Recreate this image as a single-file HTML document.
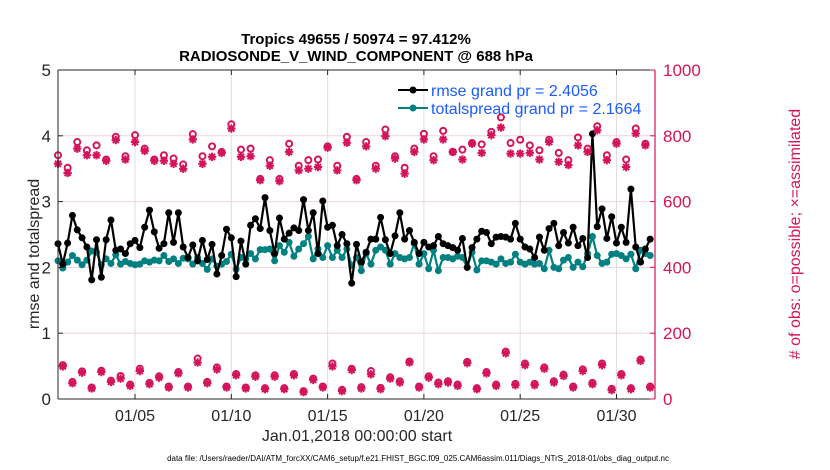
<!DOCTYPE html>
<html><head><meta charset="utf-8"><style>
html,body{margin:0;padding:0;background:#fff;}
svg{display:block;font-family:"Liberation Sans",Arial,sans-serif;}
</style></head><body>
<svg id="chart" width="830" height="470" viewBox="0 0 830 470" xmlns="http://www.w3.org/2000/svg">
<rect x="0" y="0" width="830" height="470" fill="#fff"/>
<g id="grid"></g>
<g id="series"></g>
<g id="axes"></g>
<text x="356" y="44" text-anchor="middle" font-size="15" font-weight="bold">Tropics 49655 / 50974 = 97.412%</text>
<text x="356" y="61" text-anchor="middle" font-size="15" font-weight="bold">RADIOSONDE_V_WIND_COMPONENT @ 688 hPa</text>
<text transform="translate(39,254) rotate(-90)" text-anchor="middle" font-size="16" fill="#262626">rmse and totalspread</text>
<text transform="translate(800,234) rotate(-90)" text-anchor="middle" font-size="16" fill="#d4145a"># of obs: o=possible; ×=assimilated</text>
<text x="357" y="441" text-anchor="middle" font-size="16" fill="#262626">Jan.01,2018 00:00:00 start</text>
<text x="418" y="461" text-anchor="middle" font-size="8" fill="#000">data file: /Users/raeder/DAI/ATM_forcXX/CAM6_setup/f.e21.FHIST_BGC.f09_025.CAM6assim.011/Diags_NTrS_2018-01/obs_diag_output.nc</text>
<g>
<line x1="398" y1="90" x2="428" y2="90" stroke="#000" stroke-width="2"/>
<circle cx="413" cy="90" r="3.5" fill="#000"/>
<text x="431" y="96" font-size="16" fill="#1a5cff">rmse grand pr = 2.4056</text>
<line x1="398" y1="108" x2="428" y2="108" stroke="#008080" stroke-width="2"/>
<circle cx="413" cy="108" r="3.5" fill="#008080"/>
<text x="431" y="114" font-size="16" fill="#1a5cff">totalspread grand pr = 2.1664</text>
</g>
</svg>
<script>
// 6-hourly series, Jan 1 00Z .. Jan 31 18Z
const rmse = [2.36,2.05,2.37,2.79,2.57,2.45,2.31,1.81,2.42,1.85,2.42,2.72,2.26,2.28,2.21,2.36,2.41,2.30,2.61,2.87,2.54,2.29,2.36,2.83,2.38,2.83,2.31,2.15,2.34,2.10,2.41,2.12,2.35,1.90,2.18,2.58,2.45,1.86,2.40,2.05,2.64,2.74,
2.59,3.06,2.56,2.21,2.75,2.43,2.52,2.60,2.56,3.03,2.56,2.83,2.21,3.01,2.61,2.64,2.33,2.50,2.36,1.76,2.35,2.08,2.23,2.43,2.43,2.76,2.42,2.21,2.48,2.83,2.43,2.56,2.38,2.21,2.38,2.31,2.33,2.47,2.36,2.33,2.30,2.26,
2.44,2.00,2.30,2.43,2.55,2.53,2.36,2.46,2.47,2.46,2.43,2.67,2.43,2.31,2.28,2.15,2.46,2.26,2.59,2.67,2.33,2.53,2.37,2.61,2.33,2.44,2.15,4.03,2.62,2.89,2.44,2.77,2.37,2.61,2.38,3.19,2.31,2.08,2.28,2.43];
const spread = [2.10,1.99,2.08,2.18,2.11,2.04,2.11,2.25,2.23,2.04,2.13,2.06,2.19,2.05,2.09,2.06,2.04,2.05,2.10,2.08,2.11,2.10,2.18,2.09,2.13,2.06,2.14,2.13,2.05,2.15,2.06,1.97,2.13,2.02,2.05,2.09,2.20,1.97,2.15,2.13,2.21,2.13,
2.27,2.27,2.28,2.10,2.33,2.23,2.38,2.17,2.28,2.36,2.47,2.13,2.28,2.15,2.33,2.15,2.26,2.15,2.28,2.03,2.15,1.95,2.21,2.05,2.26,2.31,2.26,2.05,2.21,2.15,2.13,2.15,2.36,2.05,2.21,1.98,2.26,1.95,2.15,2.15,2.13,2.17,
2.15,2.00,2.23,1.96,2.10,2.10,2.08,2.05,2.13,2.06,2.08,2.20,2.08,2.05,2.08,2.05,2.06,1.98,2.26,2.00,1.98,2.11,2.15,2.00,2.08,2.01,2.21,2.47,2.18,2.06,2.08,2.20,2.21,2.18,2.13,2.20,1.98,2.26,2.21,2.18];
// obs counts at 00Z/12Z (even indices) and 06Z/18Z (odd indices)
const possibleMain = [741,703,781,756,771,728,797,738,802,761,728,741,731,713,805,738,768,751,835,758,761,669,726,669,776,709,726,728,768,709,797,669,781,709,819,738,703,761,806,738,815,751,758,778,774,812,856,778,788,771,756,788,748,726,795,761,829,741,781,728,822,776];
const assimMain = [715,687,761,741,741,724,787,728,781,754,724,724,715,700,789,715,736,748,822,736,738,665,709,662,751,695,700,705,764,695,779,665,768,700,799,731,685,751,789,726,789,751,728,776,748,802,825,746,746,748,728,781,721,711,771,751,817,726,776,705,807,771];
const possibleOff = [103,52,84,35,86,56,70,44,92,49,69,38,82,38,123,52,96,38,76,35,72,33,72,33,76,24,62,38,108,28,92,36,85,34,66,54,114,38,69,50,54,44,113,33,82,44,144,46,108,46,96,54,74,38,90,49,108,31,76,33,120,38];
const assimOff = [99,48,80,32,82,52,62,40,85,45,65,35,78,35,111,48,90,35,72,32,68,30,68,30,72,21,58,35,99,24,88,32,75,30,62,50,111,35,65,45,50,40,109,30,78,40,139,42,103,42,92,50,70,35,85,45,103,27,72,30,116,35];
const xTickLabels = ["01/05","01/10","01/15","01/20","01/25","01/30"];
const xTickDays = [4,9,14,19,24,29];
const yTicks = [0,1,2,3,4,5];
const y2Ticks = [0,200,400,600,800,1000];

const NS = "http://www.w3.org/2000/svg";
const L = 58, R = 655, T = 70, B = 399;
const xDomain = [0, 31];
function xs(d){ return L + (d - xDomain[0]) / (xDomain[1] - xDomain[0]) * (R - L); }
function ys(v){ return B - v / 5 * (B - T); }
function ys2(n){ return B - n / 1000 * (B - T); }
function mk(tag, attrs, parent){
  const e = document.createElementNS(NS, tag);
  for (const k in attrs) e.setAttribute(k, attrs[k]);
  parent.appendChild(e);
  return e;
}
const grid = document.getElementById('grid');
const series = document.getElementById('series');
const axes = document.getElementById('axes');
const MAG = "#d4145a";

// grid
xTickDays.forEach(d => {
  const g = mk('line', {x1: xs(d), x2: xs(d), y1: T, y2: B, stroke: "#dedede", "stroke-width": 1}, grid);
  
  
});
y2Ticks.forEach(n => {
  const g = mk('line', {x1: L, x2: R, y1: ys2(n), y2: ys2(n), stroke: "#efd4de", "stroke-width": 1}, grid);
  
  
});

// series
const time = rmse.map((_, i) => i * 0.25);
function linePath(vals){ return vals.map((v, i) => (i ? 'L' : 'M') + xs(time[i]).toFixed(1) + ',' + ys(v).toFixed(1)).join(''); }
const spreadLine = mk('path', {d: linePath(spread), fill: "none", stroke: "#008080", "stroke-width": 2.2}, series);


spread.forEach((v, i) => {
  const c = mk('circle', {cx: xs(time[i]), cy: ys(v), r: 3.5, fill: "#008080"}, series);
  
  
});
const rmseLine = mk('path', {d: linePath(rmse), fill: "none", stroke: "#000", "stroke-width": 2.2}, series);


rmse.forEach((v, i) => {
  const c = mk('circle', {cx: xs(time[i]), cy: ys(v), r: 3.5, fill: "#000"}, series);
  
  
});

function star(x, y){
  const s = 4.2, d = s * 0.72;
  const p = `M${x-s},${y}L${x+s},${y}M${x},${y-s}L${x},${y+s}M${x-d},${y-d}L${x+d},${y+d}M${x-d},${y+d}L${x+d},${y-d}`;
  const e = mk('path', {d: p, stroke: MAG, "stroke-width": 2, fill: "none"}, series);
  
  
}
function ring(x, y){
  const e = mk('circle', {cx: x, cy: y, r: 3, stroke: MAG, "stroke-width": 2, fill: "none"}, series);
  
  
}
rmse.forEach((_, i) => {
  const h = Math.floor(i / 2);
  const poss = (i % 2 === 0) ? possibleMain[h] : possibleOff[h];
  const asm = (i % 2 === 0) ? assimMain[h] : assimOff[h];
  if (poss === undefined) return;
  ring(xs(time[i]), ys2(poss));
  star(xs(time[i]), ys2(asm));
});

// axes
const axL = mk('line', {x1: L, x2: L, y1: T, y2: B, stroke: "#262626", "stroke-width": 1}, axes);


const axB = mk('line', {x1: L, x2: R, y1: B, y2: B, stroke: "#262626", "stroke-width": 1}, axes);


const axT = mk('line', {x1: L, x2: R, y1: T, y2: T, stroke: "#262626", "stroke-width": 1}, axes);


const axR = mk('line', {x1: R, x2: R, y1: T, y2: B, stroke: MAG, "stroke-width": 1.2}, axes);



xTickDays.forEach((d, k) => {
  mk('line', {x1: xs(d), x2: xs(d), y1: B, y2: B - 5, stroke: "#262626"}, axes);
  mk('line', {x1: xs(d), x2: xs(d), y1: T, y2: T + 5, stroke: "#262626"}, axes);
  const t = mk('text', {x: xs(d), y: B + 22, "text-anchor": "middle", "font-size": 16, fill: "#262626"}, axes);
  t.textContent = xTickLabels[k];
  
  
});
yTicks.forEach(v => {
  mk('line', {x1: L, x2: L + 5, y1: ys(v), y2: ys(v), stroke: "#262626"}, axes);
  const t = mk('text', {x: L - 7, y: ys(v) + 6, "text-anchor": "end", "font-size": 17, fill: "#262626"}, axes);
  t.textContent = v;
  
  
});
y2Ticks.forEach(n => {
  mk('line', {x1: R, x2: R - 5, y1: ys2(n), y2: ys2(n), stroke: MAG}, axes);
  const t = mk('text', {x: R + 8, y: ys2(n) + 6, "font-size": 17, fill: MAG}, axes);
  t.textContent = n;
  
  
});
</script>
</body></html>
